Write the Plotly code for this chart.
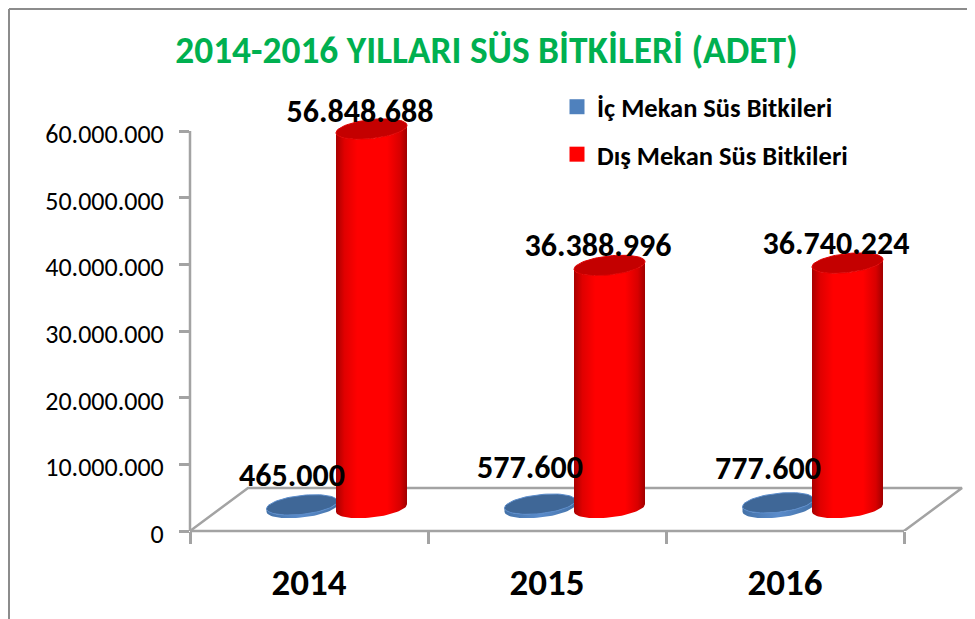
import numpy as np
import plotly.graph_objects as go

# ---- data ----
years = ["2014", "2015", "2016"]
ic_mekan = [465000, 577600, 777600]
dis_mekan = [56848688, 36388996, 36740224]
ic_name = "İç Mekan Süs Bitkileri"
dis_name = "Dış Mekan Süs Bitkileri"
title = "2014-2016 YILLARI SÜS BİTKİLERİ (ADET)"
y_ticks = [0, 10000000, 20000000, 30000000, 40000000, 50000000, 60000000]

# ---- layout geometry (pixels of the page; the page body adds an 8px margin) ----
OFF = 8
W, H = 975 - OFF, 619 - OFF
L, R, T, B = 190, 904, 131, 531     # axis rectangle on the page
TOP, RIGHT = 90, 975                # plotting area is larger so the 3D marks are not clipped
Y_MAX = 60000000
ux = 1 / ((R - L) / 3)              # category units per pixel
uy = Y_MAX / (B - T)                # value units per pixel
FONT = "Carlito, Lato, sans-serif"
GREY = "#a3a3a3"

pos = np.arange(len(years), dtype=float)
t = np.linspace(0, 2 * np.pi, 73)


def ellipse(cx, cy, a, b, s, ts):
    return cx + a * np.cos(ts), cy + b * np.sin(ts) + s * np.cos(ts)


def cylinder(fig, cx, value, scale, cap, rim):
    a, b, s = 35.5 * ux, 9.5 * uy, 3.7 * uy
    base = 23 * uy
    top = base + value
    ts = np.linspace(np.pi, 2 * np.pi, 37)
    bx, by = ellipse(cx, base, a, b, s, ts)
    tx, ty = ellipse(cx, top, a, b, s, ts[::-1])
    fig.add_trace(go.Scatter(
        x=np.r_[bx, tx], y=np.r_[by, ty], mode="lines", fill="toself",
        line=dict(width=0, color=rim), fillgradient=dict(type="horizontal", colorscale=scale),
        showlegend=False, hoverinfo="skip"))
    ex, ey = ellipse(cx, top, a, b, s, t)
    fig.add_trace(go.Scatter(
        x=ex, y=ey, mode="lines", fill="toself", fillcolor=cap,
        line=dict(width=1, color=rim), showlegend=False, hoverinfo="skip"))


RED_SCALE = [[0, "#a80000"], [0.12, "#e00000"], [0.3, "#ff0000"], [0.72, "#ff0000"], [0.9, "#d80000"], [1, "#a00000"]]
BLUE_SCALE = [[0, "#4472a8"], [0.5, "#5b8ccb"], [1, "#4472a8"]]

fig = go.Figure()

# floor of the 3D chart
dx, dy = 58 * ux, 43 * uy
fig.add_trace(go.Scatter(
    x=[-0.5, -0.5 + dx, 2.5 + dx, 2.5], y=[0, dy, dy, 0], mode="lines",
    line=dict(color=GREY, width=2.5), showlegend=False, hoverinfo="skip"))

for x, v in zip(pos, ic_mekan):
    cylinder(fig, x - 7 * ux, v, BLUE_SCALE, "#3f6797", "#5b8ccb")
for x, v in zip(pos, dis_mekan):
    cylinder(fig, x + 62.5 * ux, v, RED_SCALE, "#c40000", "#e00000")


def label(v):
    return f"{v:,}".replace(",", ".")


# data labels
ic_label_dx, ic_label_dy = [-17, -17, -17], [50, 57, 55]
dis_label_dx, dis_label_dy = [51, 51, 51], [38, 40, 40]
fig.add_trace(go.Scatter(
    x=[x + d * ux for x, d in zip(pos, ic_label_dx)],
    y=[v + d * uy for v, d in zip(ic_mekan, ic_label_dy)],
    text=[label(v) for v in ic_mekan], mode="text", textposition="middle center",
    textfont=dict(family=FONT, size=32, color="#000000", weight=700),
    showlegend=False, hoverinfo="skip", cliponaxis=False))
fig.add_trace(go.Scatter(
    x=[x + d * ux for x, d in zip(pos, dis_label_dx)],
    y=[v + d * uy for v, d in zip(dis_mekan, dis_label_dy)],
    text=[label(v) for v in dis_mekan], mode="text", textposition="middle center",
    textfont=dict(family=FONT, size=32, color="#000000", weight=700),
    showlegend=False, hoverinfo="skip", cliponaxis=False))

# legend entries
fig.add_trace(go.Scatter(x=[None], y=[None], mode="markers", name=ic_name, legendgroup="a",
                         marker=dict(symbol="square", size=15, color="#4f81bd")))
fig.add_trace(go.Scatter(x=[None], y=[None], mode="markers", name=dis_name, legendgroup="b",
                         marker=dict(symbol="square", size=15, color="#ff0000")))

fx = lambda p: (p - L) / (RIGHT - L)
fy = lambda p: (B - p) / (B - TOP)
frame = dict(color="#8c8c8c", width=2)
axis_line = dict(color=GREY, width=2.5)

fig.update_layout(
    width=W, height=H, autosize=False,
    margin=dict(l=L - OFF, r=0, t=TOP - OFF, b=H - (B - OFF), pad=0),
    paper_bgcolor="#ffffff", plot_bgcolor="#ffffff",
    separators=",.",
    font=dict(family=FONT, color="#000000"),
    title=dict(text=title, x=(486.5 - OFF) / W, xanchor="center", xref="container",
               y=1 - (50 - OFF) / H, yanchor="middle", yref="container",
               font=dict(family=FONT, size=37.4, color="#00b050", weight=700)),
    xaxis=dict(range=[-0.5, 2.5 + (RIGHT - R) * ux], tickvals=list(pos), ticktext=years, showgrid=False,
               zeroline=False, showline=False, ticks="outside", ticklen=19, tickcolor="rgba(0,0,0,0)",
               tickfont=dict(family=FONT, size=37, color="#000000", weight=700),
               minor=dict(tickvals=[-0.5, 0.5, 1.5, 2.5], ticks="outside", ticklen=12, tickwidth=2.5,
                          tickcolor=GREY, showgrid=False)),
    yaxis=dict(range=[0, (B - TOP) * uy], tickvals=y_ticks, tickformat=",d", showgrid=False, zeroline=False,
               showline=False, ticks="outside", ticklen=10, tickwidth=2.5, ticklabelstandoff=10,
               ticklabelshift=3,
               tickcolor=GREY, tickfont=dict(family=FONT, size=26, color="#000000")),
    legend=dict(x=fx(557), xanchor="left", y=fy(83), yanchor="top", tracegroupgap=10,
                bgcolor="rgba(0,0,0,0)", font=dict(family=FONT, size=26.5, color="#000000", weight=700)),
    shapes=[
        # y axis line and x axis baseline, up to the last tick only
        dict(type="line", xref="paper", yref="y", x0=0, x1=0, y0=0, y1=Y_MAX, line=axis_line),
        dict(type="line", xref="x", yref="paper", x0=-0.5, x1=2.5, y0=0, y1=0, line=axis_line),
        # chart frame
        dict(type="line", xref="paper", yref="paper", x0=fx(9), x1=fx(9), y0=fy(9), y1=fy(619), line=frame),
        dict(type="line", xref="paper", yref="paper", x0=fx(9), x1=fx(975), y0=fy(9), y1=fy(9), line=frame),
    ],
)

fig.write_html("out.html")
